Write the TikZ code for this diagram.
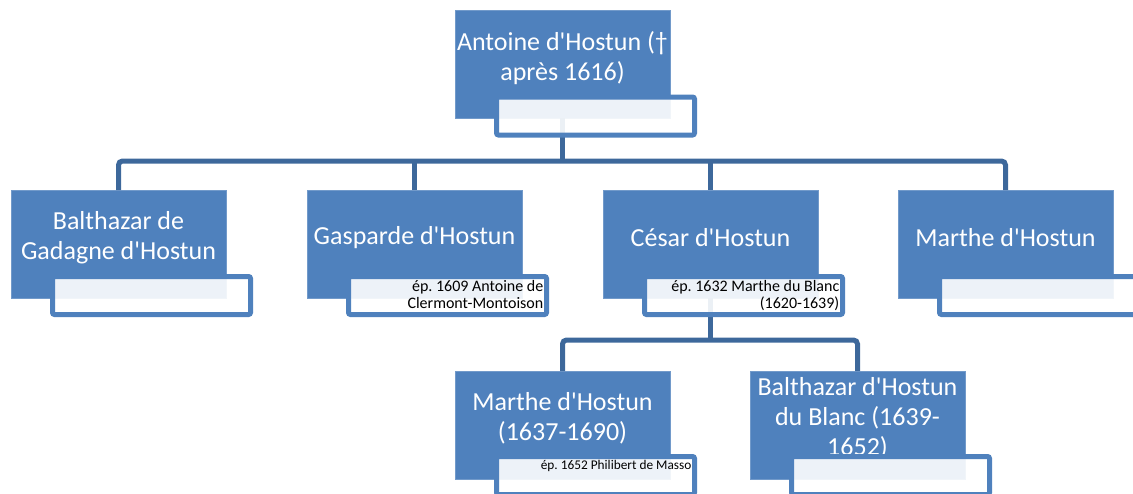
\documentclass[tikz,border=0pt]{standalone}
\usepackage{fontspec}
\setmainfont{Carlito}[Ligatures=TeXOff]
\frenchspacing
\definecolor{boxblue}{RGB}{79,129,189}
\definecolor{connblue}{RGB}{61,104,155}
\tikzset{
  bluebox/.style={rectangle, fill=boxblue, draw=boxblue!80!white, line width=0.6pt, minimum width=215pt, minimum height=108pt, inner sep=0pt, outer sep=0pt, anchor=north west},
  maintext/.style={text=white, font=\fontsize{26}{30}\selectfont, align=center, inner sep=0pt},
  notebox/.style={rectangle, draw=boxblue, line width=5pt, fill=white, fill opacity=0.9, rounded corners=2pt, minimum width=198pt, minimum height=38pt, inner sep=0pt, anchor=north west},
  notetext/.style={text=black, font=\fontsize{16}{17.5}\selectfont, align=right, inner sep=0pt, anchor=north east},
  conn/.style={draw=connblue, line width=5pt, rounded corners=4pt}
}
\begin{document}
\begin{tikzpicture}[x=1pt,y=-1pt]
\useasboundingbox (0,0) rectangle (1133,493);
% blue boxes (positions)
\coordinate (pa) at (455,10);
\coordinate (p1) at (11,190);
\coordinate (p2) at (307,190);
\coordinate (p3) at (603,190);
\coordinate (p4) at (898,190);
\coordinate (p5) at (455,371);
\coordinate (p6) at (750,371);
\path (pa) node[bluebox] (a) {};
\path (p1) node[bluebox] (b1) {};
\path (p2) node[bluebox] (b2) {};
\path (p3) node[bluebox] (b3) {};
\path (p4) node[bluebox] (b4) {};
\path (p5) node[bluebox] (c1) {};
\path (p6) node[bluebox] (c2) {};
% connectors
\coordinate (j1) at ([yshift=-43pt]a.south);
\coordinate (j2) at ([yshift=-42pt]b3.south);
\draw[conn] (b1.north) |- (j1) -| (b4.north);
\draw[conn] (a.south) -- (j1);
\draw[conn] (b2.north) -- (b2.north |- j1);
\draw[conn] (b3.north) -- (b3.north |- j1);
\draw[conn] (c1.north) |- (j2) -| (c2.north);
\draw[conn] (b3.south) -- (j2);
% main texts
\node[maintext] (ta) at ([yshift=-48pt]a.north) {Antoine d'Hostun (†\\après 1616)};
\node[maintext] (tb1) at ([yshift=-48pt]b1.north) {Balthazar de\\Gadagne d'Hostun};
\node[maintext] (tb2) at ([yshift=-48pt]b2.north) {Gasparde d'Hostun};
\node[maintext] (tb3) at ([yshift=-48pt]b3.north) {César d'Hostun};
\node[maintext] (tb4) at ([yshift=-48pt]b4.north) {Marthe d'Hostun};
\node[maintext] (tc1) at ([yshift=-47pt]c1.north) {Marthe d'Hostun\\(1637-1690)};
\node[maintext] (tc2) at ([yshift=-47pt]c2.north) {Balthazar d'Hostun\\du Blanc (1639-\\1652)};
% note boxes
\node[notebox] (na) at ([shift={(39pt,-84.5pt)}]a.north west) {};
\node[notebox] (nb1) at ([shift={(39pt,-84pt)}]b1.north west) {};
\node[notebox] (nb2) at ([shift={(39pt,-84pt)}]b2.north west) {};
\node[notebox] (nb3) at ([shift={(39pt,-84pt)}]b3.north west) {};
\node[notebox] (nb4) at ([shift={(39pt,-84pt)}]b4.north west) {};
\node[notebox] (nc1) at ([shift={(39pt,-83pt)}]c1.north west) {};
\node[notebox] (nc2) at ([shift={(39pt,-83pt)}]c2.north west) {};
% note texts
\node[notetext] (xb2) at ([shift={(-5.5pt,-6pt)}]nb2.north east) {ép. 1609 Antoine de\\Clermont-Montoison};
\node[notetext] (xb3) at ([shift={(-5.5pt,-6pt)}]nb3.north east) {ép. 1632 Marthe du Blanc\\(1620-1639)};
\node[notetext, font=\fontsize{13.3}{15}\selectfont] (xc1) at ([shift={(-5.5pt,-6pt)}]nc1.north east) {ép. 1652 Philibert de Masso};
\end{tikzpicture}
\end{document}
